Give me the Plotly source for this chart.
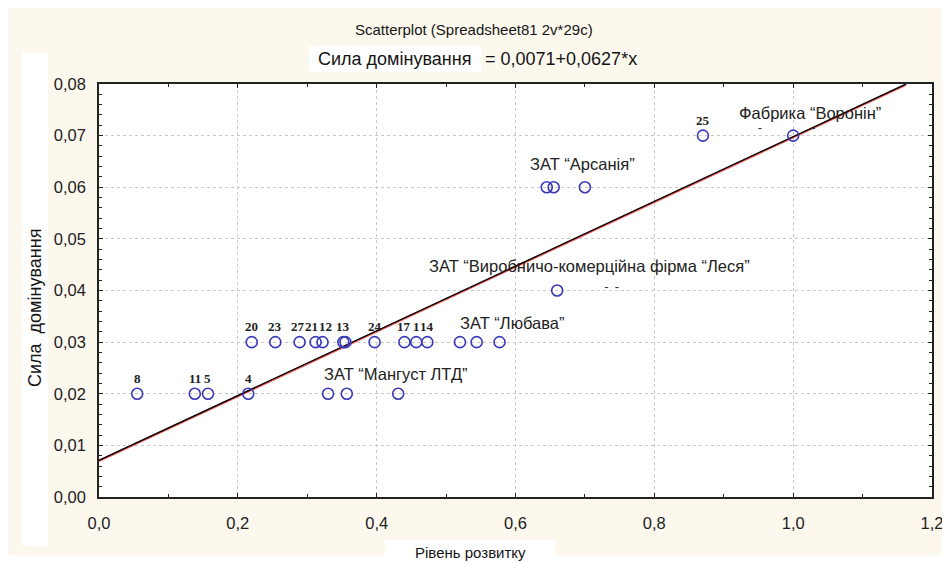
import plotly.graph_objects as go

# ---- data ----
x_vals = [0.055, 0.138, 0.157, 0.215, 0.330, 0.357, 0.431,
          0.220, 0.254, 0.289, 0.312, 0.322, 0.352, 0.355, 0.397, 0.440, 0.457, 0.473,
          0.520, 0.544, 0.577,
          0.645, 0.655, 0.700,
          0.660,
          0.870, 1.000]
y_vals = [0.02, 0.02, 0.02, 0.02, 0.02, 0.02, 0.02,
          0.03, 0.03, 0.03, 0.03, 0.03, 0.03, 0.03, 0.03, 0.03, 0.03, 0.03,
          0.03, 0.03, 0.03,
          0.06, 0.06, 0.06,
          0.04,
          0.07, 0.07]
pt_labels = ["8", "11", "5", "4", "", "", "",
             "20", "23", "27", "21", "12", "13", "", "24", "17", "1", "14",
             "", "", "",
             "", "", "",
             "",
             "25", ""]

intercept = 0.0071
slope = 0.0627
x_range = [0.0, 1.2]
y_range = [0.0, 0.08]

firm_names = ["Фабрика “Воронін”", "ЗАТ “Арсанія”",
              "ЗАТ “Виробничо-комерційна фірма “Леся”",
              "ЗАТ “Любава”", "ЗАТ “Мангуст ЛТД”"]
firm_x = [1.024, 0.697, 0.706, 0.596, 0.428]
firm_y = [0.0744, 0.0645, 0.0448, 0.0337, 0.0238]

# stray dash marks left in the original picture
dash_x = [0.534, 0.731, 0.746, 0.952, 1.029]
dash_y = [0.0405, 0.0405, 0.0405, 0.0713, 0.0713]

x_ticks = [0.0, 0.2, 0.4, 0.6, 0.8, 1.0, 1.2]
y_ticks = [0.00, 0.01, 0.02, 0.03, 0.04, 0.05, 0.06, 0.07, 0.08]

# regression line end where it meets the top of the frame
x_end = (y_range[1] - intercept) / slope
line_x = [x_range[0], x_end]
line_y = [intercept + slope * v for v in line_x]
red_shift = 0.00015  # the red fit line shows just below the black one

fig = go.Figure()

fig.add_trace(go.Scatter(x=line_x, y=[v - red_shift for v in line_y], mode="lines",
                         line=dict(color="rgba(255,70,70,0.85)", width=2),
                         hoverinfo="skip", showlegend=False))
fig.add_trace(go.Scatter(x=line_x, y=line_y, mode="lines",
                         line=dict(color="black", width=1.4),
                         hoverinfo="skip", showlegend=False))

fig.add_trace(go.Scatter(x=x_vals, y=y_vals, mode="markers",
                         marker=dict(symbol="circle-open", size=11,
                                     color="#3a3ab8", line=dict(width=1.6)),
                         showlegend=False))

fig.add_trace(go.Scatter(x=dash_x, y=dash_y, mode="text", text=["-"] * len(dash_x),
                         textfont=dict(family="Liberation Sans", size=13, color="#333333"),
                         hoverinfo="skip", showlegend=False))

W, H = 950, 563
OFF = 8  # page body margin
# plot frame in page pixels
FX0, FX1, FY0, FY1 = 99, 932, 84, 497
L = FX0 - OFF
T = FY0 - OFF
R = W - (FX1 - OFF)
B = H - (FY1 - OFF)
pw, ph = FX1 - FX0, FY1 - FY0


def px(xp):
    return (xp - FX0) / pw


def py(yp):
    return (FY1 - yp) / ph


shapes = [
    dict(type="rect", xref="paper", yref="paper", x0=px(5), x1=px(945), y0=py(555), y1=py(5),
         fillcolor="#fcf8ee", line=dict(width=0), layer="below"),
    dict(type="rect", xref="paper", yref="paper", x0=px(22), x1=px(48), y0=py(546), y1=py(53),
         fillcolor="white", line=dict(width=0), layer="below"),
    dict(type="rect", xref="paper", yref="paper", x0=px(309), x1=px(481), y0=py(72), y1=py(46),
         fillcolor="white", line=dict(width=0), layer="below"),
    dict(type="rect", xref="paper", yref="paper", x0=px(385), x1=px(555), y0=py(563), y1=py(540),
         fillcolor="white", line=dict(width=0), layer="below"),
    dict(type="rect", xref="paper", yref="paper", x0=0, x1=1, y0=0, y1=1,
         fillcolor="white", line=dict(width=0), layer="below"),
]

annotations = []

# point number labels (small nudges so crowded neighbours sit side by side)
label_nudge = {"27": -2, "21": -4, "12": 3}
for lx, ly, lab in zip(x_vals, y_vals, pt_labels):
    if not lab:
        continue
    annotations.append(dict(x=lx, y=ly, xref="x", yref="y", text="<b>%s</b>" % lab,
                            showarrow=False, xanchor="center", yanchor="bottom",
                            xshift=label_nudge.get(lab, 0), yshift=6,
                            font=dict(family="Liberation Serif", size=13, color="#222222")))

for name, fx, fy in zip(firm_names, firm_x, firm_y):
    annotations.append(dict(x=fx, y=fy, xref="x", yref="y", text=name, showarrow=False,
                            xanchor="center", yanchor="middle",
                            font=dict(family="Liberation Sans", size=16.5, color="#222222")))


def paper_note(xp, yp, text, size, **kw):
    return dict(x=px(xp), y=py(yp), xref="paper", yref="paper", text=text,
                showarrow=False, xanchor="center", yanchor="middle",
                font=dict(family="Liberation Sans", size=size, color="#151515"), **kw)


annotations += [
    paper_note(474, 30, "Scatterplot (Spreadsheet81 2v*29c)", 15),
    paper_note(394, 59, "Сила домінування", 18),
    paper_note(561, 59, "= 0,0071+0,0627*x", 18),
    paper_note(35, 308, "Сила  домінування", 18, textangle=-90),
    paper_note(470, 552, "Рівень розвитку", 15),
]

fig.update_layout(
    width=W, height=H,
    margin=dict(l=L, r=R, t=T, b=B, pad=0),
    paper_bgcolor="white",
    plot_bgcolor="rgba(0,0,0,0)",
    separators=", ",
    shapes=shapes,
    annotations=annotations,
    font=dict(family="Liberation Sans", size=16, color="#222222"),
)

axis_common = dict(showline=True, linecolor="#222222", linewidth=1.5, mirror="ticks",
                   ticks="inside", ticklen=4, tickcolor="#222222",
                   showgrid=True, gridcolor="#c8c8c8", griddash="dot", gridwidth=1,
                   zeroline=False, tickfont=dict(family="Liberation Sans", size=16.5, color="#222222"))

fig.update_xaxes(range=x_range, tickvals=x_ticks, tickformat=".1f", ticklabelstandoff=10,
                 minor=dict(dtick=0.1, ticks="inside", ticklen=3, tickcolor="#222222", showgrid=False),
                 **axis_common)
fig.update_yaxes(range=y_range, tickvals=y_ticks, tickformat=".2f", ticklabelstandoff=8,
                 minor=dict(dtick=0.002, ticks="inside", ticklen=3, tickcolor="#222222", showgrid=False),
                 **axis_common)

fig.write_html("out.html")
